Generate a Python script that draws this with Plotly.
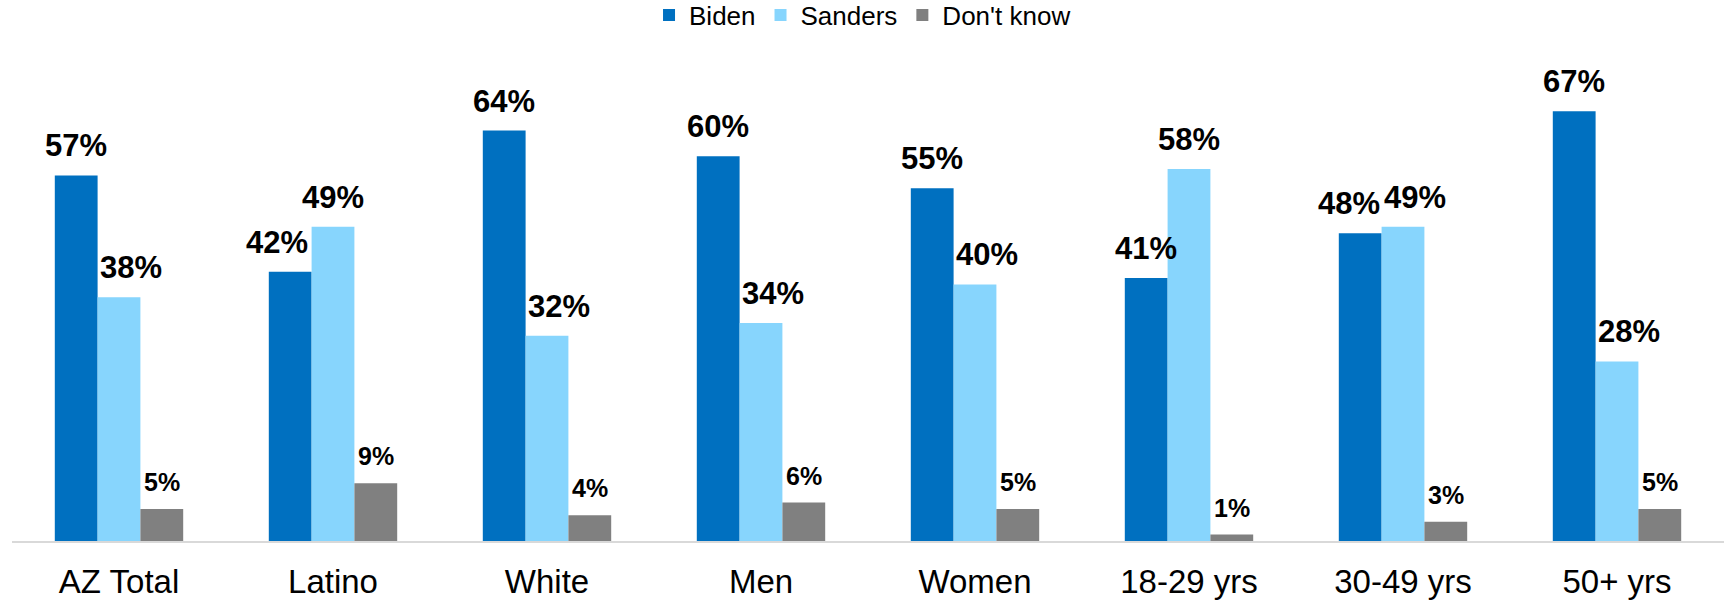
import plotly.graph_objects as go

categories = ["AZ Total", "Latino", "White", "Men", "Women", "18-29 yrs", "30-49 yrs", "50+ yrs"]
biden = [57, 42, 64, 60, 55, 41, 48, 67]
sanders = [38, 49, 32, 34, 40, 58, 49, 28]
dont_know = [5, 9, 4, 6, 5, 1, 3, 5]

series = [("Biden", biden, "#0070C0"), ("Sanders", sanders, "#87D5FD"), ("Don't know", dont_know, "#808080")]

W, H = 1727, 601
ML, MR, MT, MB = 12, 3, 60, 60
BARGAP = 0.4
FONT = "Arial, Liberation Sans, sans-serif"

fig = go.Figure()
for name, vals, color in series:
    fig.add_trace(go.Bar(x=categories, y=vals, name=name, marker=dict(color=color, line=dict(width=0))))

# bar width in px for label placement
cat_px = (W - ML - MR) / len(categories)
bar_px = cat_px * (1 - BARGAP) / 3

annotations = []
for si, (name, vals, color) in enumerate(series):
    for ci, cat in enumerate(categories):
        v = vals[ci]
        center = (si - 1) * bar_px
        xanchor = "center"
        xshift = center
        if si == 0 and biden[ci] < sanders[ci] and sanders[ci] - biden[ci] < 5:
            xanchor = "right"
            xshift = center + bar_px / 2
        elif si == 0 and biden[ci] < sanders[ci] and sanders[ci] - biden[ci] < 10:
            xshift = center - bar_px * 0.3
        elif si == 1 and sanders[ci] - biden[ci] < 5:
            xanchor = "left"
            xshift = center - bar_px / 2
        big = si < 2
        annotations.append(dict(
            x=cat, y=v, xref="x", yref="y", text=f"<b>{v}%</b>", showarrow=False,
            xanchor=xanchor, yanchor="bottom", xshift=xshift, yshift=10 if big else 11,
            font=dict(family=FONT, size=31 if big else 25, color="#000000"),
        ))

fig.update_layout(
    width=W, height=H,
    margin=dict(l=ML, r=MR, t=MT, b=MB, autoexpand=False),
    barmode="group", bargap=BARGAP, bargroupgap=0,
    plot_bgcolor="white", paper_bgcolor="white",
    font=dict(family=FONT, color="#000000"),
    showlegend=True,
    legend=dict(orientation="h", x=0.4968, xanchor="center", y=1 - 15 / H, yref="container", yanchor="middle",
                font=dict(size=26, family=FONT, color="#000000"), traceorder="normal"),
    annotations=annotations,
    xaxis=dict(showline=True, linecolor="#D9D9D9", linewidth=2, ticks="outside", ticklen=10,
               tickcolor="rgba(0,0,0,0)", tickfont=dict(size=33, family=FONT, color="#000000"),
               showgrid=False, automargin=False),
    yaxis=dict(range=[0, 75], visible=False, showgrid=False, zeroline=False, automargin=False),
)

fig.write_html("out.html", config={"displayModeBar": False},
               post_script="document.body.style.margin='0';document.body.style.overflow='hidden';")
